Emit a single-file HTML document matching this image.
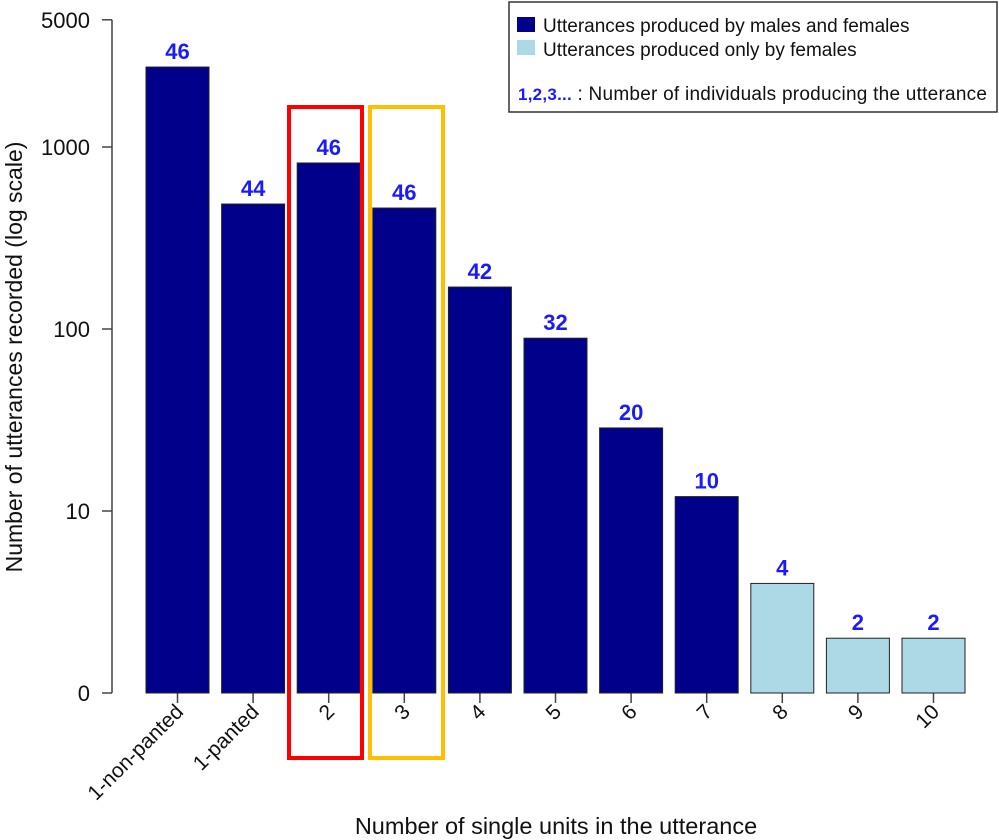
<!DOCTYPE html>
<html><head><meta charset="utf-8"><style>body{margin:0;background:#fff}svg{display:block;font-family:"Liberation Sans",Arial,sans-serif}</style></head>
<body>
<svg id="chart" width="999" height="840" viewBox="0 0 999 840" xmlns="http://www.w3.org/2000/svg">
<g id="axes"></g><g id="bars"></g>
<rect x="289" y="107" width="73" height="651" fill="none" stroke="#ff0000" stroke-width="4"/>
<rect x="370" y="107" width="73" height="651" fill="none" stroke="#ffbf00" stroke-width="4"/>
<text transform="translate(22,357) rotate(-90)" text-anchor="middle" font-size="23" fill="#111">Number of utterances recorded (log scale)</text>
<text x="556" y="834" text-anchor="middle" font-size="23.5" fill="#111">Number of single units in the utterance</text>
<g>
<rect x="509" y="2" width="488" height="110" fill="#fff" stroke="#333" stroke-width="1.5"/>
<rect x="517" y="17" width="18" height="15" fill="#00008b"/>
<text x="543" y="32" font-size="19" fill="#111">Utterances produced by males and females</text>
<rect x="517" y="40" width="18" height="15" fill="#add8e6"/>
<text x="543" y="56" font-size="19" fill="#111">Utterances produced only by females</text>
<text x="518" y="100" font-size="19" fill="#111" textLength="469"><tspan fill="#1a1aff" font-weight="bold" font-size="17">1,2,3...</tspan> : Number of individuals producing the utterance</text>
</g>
</svg>
<script>
const categories=["1-non-panted","1-panted","2","3","4","5","6","7","8","9","10"];
const counts=[2750,486,817,462,170,89,28.6,12,4,2,2];
const individuals=[46,44,46,46,42,32,20,10,4,2,2];
const femaleOnly=[false,false,false,false,false,false,false,false,true,true,true];
const yTicks=[1,10,100,1000,5000];
const yTickLabels=["0","10","100","1000","5000"];
const NS="http://www.w3.org/2000/svg";
function y(v){return 693-182*Math.log10(v);}
function xc(i){return 177.5+i*75.6;}
const bw=63;
function mk(tag,attrs,parent,txt){const e=document.createElementNS(NS,tag);for(const k in attrs)e.setAttribute(k,attrs[k]);if(txt!==undefined)e.textContent=txt;parent.appendChild(e);return e;}
const ax=document.getElementById('axes'),bars=document.getElementById('bars');
const yl=mk('line',{x1:112,x2:112,y1:y(5000),y2:y(1),stroke:'#444','stroke-width':1.5},ax);


yTicks.forEach((t,i)=>{
 const tk=mk('line',{x1:102,x2:112,y1:y(t),y2:y(t),stroke:'#444','stroke-width':1.5},ax);
 
 
 const tl=mk('text',{x:90,y:y(t)+8,'text-anchor':'end','font-size':22,fill:'#111'},ax,yTickLabels[i]);
 
 
});
categories.forEach((c,i)=>{
 const top=y(counts[i]);
 const r=mk('rect',{x:xc(i)-bw/2,y:top,width:bw,height:693-top,fill:femaleOnly[i]?'#add8e6':'#00008b',stroke:'#222','stroke-width':1},bars);
 
 
 const v=mk('text',{x:xc(i),y:top-8,'text-anchor':'middle','font-size':22,'font-weight':'bold',fill:'#1a1aff'},bars,individuals[i]);
 
 
 const tk=mk('line',{x1:xc(i),x2:xc(i),y1:693,y2:703,stroke:'#444','stroke-width':1.5},ax);
 
 
 const tl=mk('text',{transform:`translate(${xc(i)+7},${713}) rotate(-45)`,'text-anchor':'end','font-size':21,fill:'#111'},ax,c);
 
 
});
</script>
</body></html>
